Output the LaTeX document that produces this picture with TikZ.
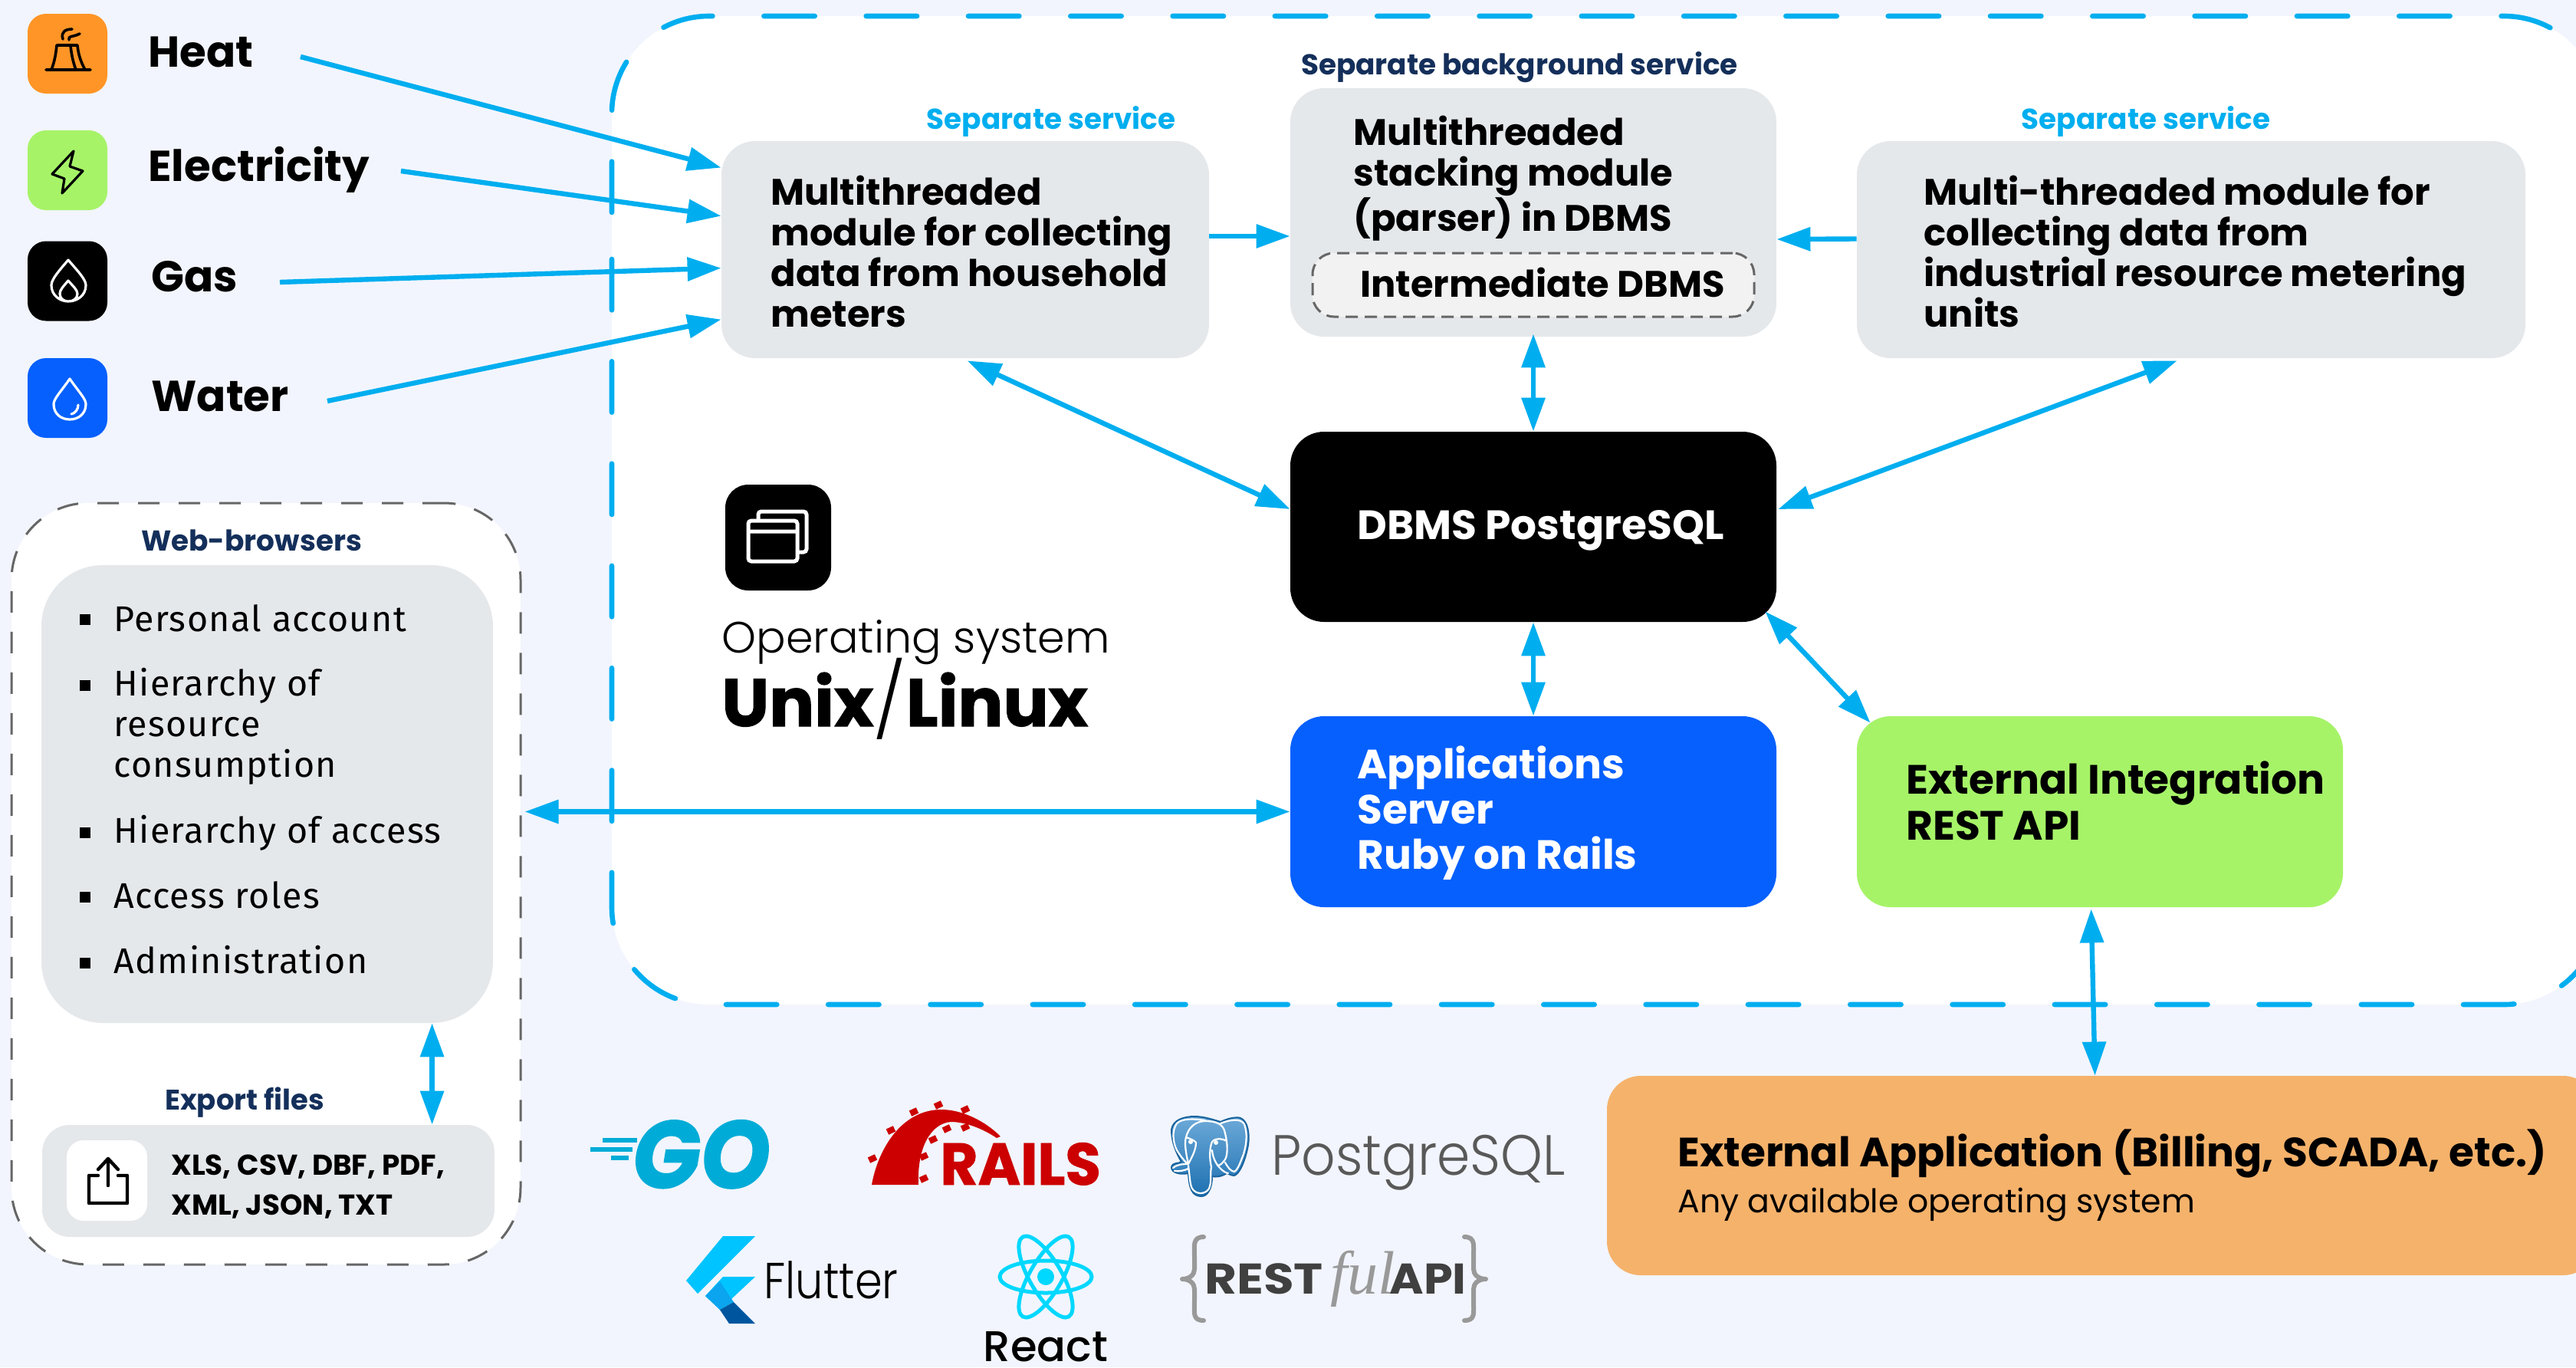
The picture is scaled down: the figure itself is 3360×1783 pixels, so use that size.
\documentclass[tikz,border=0pt]{standalone}
\usepackage{fontspec}
\setmainfont{Poppins}
\newfontfamily\popb{Poppins Bold}
\newfontfamily\popm{Poppins Medium}
\newfontfamily\popl{Poppins Light}
\newfontfamily\popbi{Poppins Bold Italic}[FakeBold=1.5]
\newfontfamily\popbx{Poppins Bold}[FakeBold=1.2]
\newfontfamily\fulf{Liberation Serif Italic}
\newfontfamily\listf{Fira Sans}[LetterSpace=3]
\usetikzlibrary{arrows.meta,calc}
\newcommand\fs[2]{\fontsize{#1}{#2}\selectfont}
\definecolor{bgc}{HTML}{F2F5FD}
\definecolor{cy}{HTML}{00AEEF}
\definecolor{gr}{HTML}{E5E8EB}
\definecolor{navy}{HTML}{142F5A}
\definecolor{orng}{HTML}{FF9526}
\definecolor{lime}{HTML}{A6F368}
\definecolor{blu}{HTML}{0560FE}
\definecolor{ext}{HTML}{F5B26B}
\definecolor{dg}{HTML}{666666}
\definecolor{railsr}{HTML}{CC0000}
\definecolor{gocol}{HTML}{00ACD7}
\definecolor{pgb}{HTML}{1F7CC4}
\definecolor{flA}{HTML}{00C4FF}
\definecolor{flB}{HTML}{0AA5EE}
\definecolor{flC}{HTML}{00569E}
\definecolor{reac}{HTML}{00D8FF}
\tikzset{x=.5pt,y=-.5pt,
 box/.style={rectangle,rounded corners=22pt,inner sep=0pt,fill=gr},
 icon/.style={rectangle,rounded corners=12pt,inner sep=0pt,minimum width=52pt,minimum height=52pt},
 arr/.style={draw=cy,line width=3.2pt,-{Triangle[length=22pt,width=15pt]}},
 barr/.style={draw=cy,line width=3.2pt,{Triangle[length=22pt,width=15pt]}-{Triangle[length=22pt,width=15pt]}},
 t/.style={anchor=west,inner sep=0pt,align=left},
 tc/.style={anchor=center,inner sep=0pt,align=center},
 bul/.style={rectangle,fill=black,inner sep=0pt,minimum size=7pt},
 lbl/.style={anchor=base west,inner sep=0pt,font=\popb\fs{28.2}{34}},
 main/.style={t,font=\popb\fs{24}{26.4}},
 osdash/.style={cy,line width=3.3pt,line cap=round,dash pattern=on 33.2pt off 33.45pt,rounded corners=63.5pt},
 li/.style={t,font=\listf\fs{23.3}{26.5}},
}
\begin{document}
\begin{tikzpicture}
\useasboundingbox (0,0) rectangle (3360,1783);
\clip (0,0) rectangle (3360,1783);
\fill[bgc] (0,0) rectangle (3360,1783);
% OS area
\node[rectangle,rounded corners=63.5pt,fill=white,inner sep=0pt,minimum width=1297.5pt,minimum height=644.5pt] (osarea) at (2095.5,665.5) {};
\draw[osdash] (798,277) -- (798,21) -- (3393,21) -- (3393,700);
\draw[osdash] (798,338) -- (798,1310) -- (3393,1310) -- (3393,700);
% meter icons
\node[icon,fill=orng] (iheat) at (88,70) {};
\node[icon,fill=lime] (ielec) at (88,222) {};
\node[icon,fill=black] (igas) at (88,366.5) {};
\node[icon,fill=blu] (iwat) at (88,519) {};
\draw[black,line width=1.8pt,line cap=round,line join=round] (60,91) -- (118,91) (67,91) .. controls (72,78) and (73,68) .. (74,59) -- (101,59) .. controls (102,70) and (105,80) .. (111,91) (92,59) .. controls (93,70) and (95,80) .. (99,91) (82,51) .. controls (79,42) and (85,38) .. (94,38) (90,52) .. controls (89,46) and (94,49) .. (104,44);
\draw[black,line width=1.6pt,line join=round] (96,197) -- (91,217) -- (108,223) -- (81,252) -- (84,233) -- (68,227) -- cycle;
\draw[white,line width=1.6pt,line join=round] (89,339) .. controls (78,352) and (67,364) .. (67,372) .. controls (67,385) and (78,393) .. (89,393) .. controls (101,393) and (112,385) .. (112,372) .. controls (112,364) and (100,352) .. (89,339) -- cycle
 (89,366) .. controls (83,373) and (78,378) .. (78,383) .. controls (78,389) and (83,393) .. (89,393) .. controls (96,393) and (101,389) .. (101,383) .. controls (101,378) and (95,373) .. (89,366) -- cycle;
\draw[white,line width=1.6pt,line join=round,line cap=round] (91,494) .. controls (80,510) and (70,520) .. (70,527) .. controls (70,540) and (80,547) .. (91,547) .. controls (102,547) and (112,540) .. (112,527) .. controls (112,520) and (102,510) .. (91,494) -- cycle (102,528) .. controls (102,534) and (98,539) .. (93,540);
\node[lbl] (heat) at (193,87) {Heat};
\node[lbl] (elec) at (193,236) {Electricity};
\node[lbl] (gas) at (197,380) {Gas};
\node[lbl] (water) at (197,536) {Water};
\coordinate (heatout) at (392,74);
\coordinate (elecout) at (523,223);
\coordinate (gasout) at (365,368);
\coordinate (watout) at (427,523);
% boxes
\node[box] (collect) at (1259,325.5) [minimum width=318pt,minimum height=141.5pt] {};
\node[box] (stack) at (2000,277) [minimum width=317pt,minimum height=162pt] {};
\node[box] (indust) at (2858,325.5) [minimum width=436pt,minimum height=141.5pt] {};
\node[rectangle,rounded corners=14pt,fill=black!5,draw=dg,line width=1.5pt,dash pattern=on 8pt off 4.5pt,inner sep=0pt,minimum width=288pt,minimum height=41.5pt] (interm) at (2000,371.5) {};
\node[box,fill=black] (dbms) at (2000,687) [minimum width=317pt,minimum height=124pt] {};
\node[box,fill=blu] (app) at (2000,1058.5) [minimum width=317pt,minimum height=124.5pt] {};
\node[box,fill=lime] (integ) at (2739,1058.5) [minimum width=317pt,minimum height=124.5pt] {};
\node[box,fill=ext] (extapp) at (2741.5,1533) [minimum width=645.5pt,minimum height=130pt] {};
\node[main] (collectt) at (1005,328) {Multithreaded\\module for collecting\\data from household\\meters};
\node[main] (stackt) at (1765,233) {Multithreaded\\stacking module\\(parser) in DBMS};
\node[main] (interct) at (1774,368) {Intermediate DBMS};
\node[main] (industt) at (2509,328) {Multi-threaded module for\\collecting data from\\industrial resource metering\\units};
\node[t,font=\popb\fs{26.7}{29},white] (dbmst) at (1770,692) {DBMS PostgreSQL};
\node[t,font=\popb\fs{26.65}{29.5},white] (appt) at (1770,1060) {Applications\\Server\\Ruby on Rails};
\node[t,font=\popb\fs{26.7}{30}] (integt) at (2486,1044) {External Integration\\REST API};
\node[t,font=\popb\fs{26.65}{30}] (extt) at (2188,1504) {External Application (Billing, SCADA, etc.)};
\node[t,font=\fs{21.3}{25}] (extsub) at (2188,1571) {Any available operating system};
\node[tc,font=\popb\fs{18.7}{22},cy] (sep1) at (1371,158) {Separate service};
\node[tc,font=\popb\fs{18.7}{22},cy] (sep2) at (2799,158) {Separate service};
\node[tc,font=\popb\fs{18.7}{22},navy] (sepbg) at (1982,88) {Separate background service};
% OS icon
\node[icon,fill=black,rounded corners=15pt,minimum width=69pt,minimum height=69pt] (osicon) at (1015,701) {};
\draw[white,line width=2.5pt,rounded corners=2pt] (989,679) -- (989,667) -- (1052,667) -- (1052,720) -- (1040,720);
\draw[white,line width=2.5pt,rounded corners=2pt] (976,679) rectangle (1040,732) (976,693) -- (1040,693);
\node[anchor=base west,inner sep=0pt,font=\popl\fs{28.6}{34}] (ostxt) at (941,851) {Operating system};
\node[anchor=base west,inner sep=0pt,font=\popbx\fs{43.8}{50}] (osname) at (941,947) {Unix{\popl\fs{48}{50}\raisebox{-.8pt}{/}}Linux};
% browsers
\node[rectangle,rounded corners=50pt,fill=white,draw=dg,line width=1.5pt,dash pattern=on 14pt off 12.5pt,inner sep=0pt,minimum width=332pt,minimum height=496.5pt] (web) at (347,1152.5) {};
\node[tc,font=\popb\fs{18.7}{22},navy] (webt) at (328,705) {Web-browsers};
\node[box,rounded corners=40pt] (list) at (348.5,1035.5) [minimum width=294.5pt,minimum height=298.5pt] {};
\foreach \n/\y in {b1/808,b2/894,b3/1086,b4/1170,b5/1256} \node[bul] (\n) at (111,\y) {};
\node[li] (l1) at (148,806) {Personal account};
\node[li] (l2) at (148,947) {Hierarchy of\\resource\\consumption};
\node[li] (l3) at (148,1086) {Hierarchy of access};
\node[li] (l4) at (148,1167) {Access roles};
\node[li] (l5) at (148,1252) {Administration};
\node[tc,font=\popb\fs{18.5}{22},navy] (expt) at (319,1438) {Export files};
\node[box,rounded corners=18pt] (exportb) at (350,1540) [minimum width=295pt,minimum height=73pt] {};
\node[rectangle,rounded corners=11pt,fill=white,inner sep=0pt,minimum width=52.5pt,minimum height=52.5pt] (expicon) at (139.5,1539.5) {};
\draw[black,line width=2.2pt,line cap=round,line join=round] (128,1533) -- (116,1533) -- (116,1569) -- (166,1569) -- (166,1533) -- (154,1533) (141,1546) -- (141,1512) (128,1525) -- (141,1511) -- (154,1525);
\node[t,font=\popb\fs{18.7}{26}] (extxt) at (223,1548) {XLS, CSV, DBF, PDF,\\XML, JSON, TXT};
% connectors
\draw[arr] (heatout) -- ($(collect.north west)+(0,35)$);
\draw[arr] (elecout) -- ($(collect.north west)+(0,98)$);
\draw[arr] (gasout) -- ($(collect.north west)+(0,166)$);
\draw[arr] (watout) -- ($(collect.north west)+(0,233)$);
\draw[arr] (collect.east |- stack.center) ++(0,31) -- ($(stack.west)+(0,31)$);
\draw[arr] ($(indust.west)+(0,-14)$) -- ($(stack.east)+(0,35)$);
\draw[barr] ($(stack.south)+(0,-4)$) -- (dbms.north);
\draw[barr] ($(collect.south west)+(321,3)$) -- ($(dbms.west)+(0,-23)$);
\draw[barr] ($(indust.south west)+(418,3)$) -- ($(dbms.east)+(2,-23)$);
\draw[barr] (dbms.south) -- (app.north);
\draw[barr] ($(dbms.south east)+(-15,-14)$) -- ($(integ.north west)+(18,9)$);
\draw[barr] ($(integ.south west)+(306,2)$) -- ($(extapp.north west)+(637,0)$);
\draw[barr] ($(web.east)+(4,-94)$) -- (app.west);
\draw[barr] ($(list.south west)+(510,0)$) -- ($(exportb.north west)+(509,0)$);
% logos
\node[anchor=base west,inner sep=0pt,font=\popbi\fs{62}{70},gocol,xscale=.935] (gologo) at (825,1549) {GO};
\draw[gocol,line width=3pt] (786,1487) -- (831,1487) (770,1499) -- (825,1499) (797,1510) -- (820,1510);
% rails
\fill[railsr] (1137,1545) .. controls (1145,1500) and (1175,1447) .. (1228,1447) .. controls (1255,1447) and (1285,1462) .. (1305,1482) -- (1300,1484) .. controls (1285,1474) and (1262,1463) .. (1240,1463) .. controls (1215,1465) and (1196,1495) .. (1198,1545) -- cycle;
\foreach \x/\y in {1138/1511,1162/1474,1192/1450,1224/1441,1259/1447,1259/1470,1235/1472,1217/1486,1205/1508,1205/1537} \fill[railsr,rotate around={25:(\x,\y)}] ({\x-5},{\y-4}) rectangle ({\x+5},{\y+4});
\node[anchor=base west,inner sep=0pt,font=\popbx\fs{38.5}{44},railsr,xscale=.98] (railst) at (1226,1545) {RAILS};
% postgres elephant
\path[top color=pgb!65!white,bottom color=pgb!90!black,draw=pgb!80!black,line width=1pt,line join=round] (1528,1473) .. controls (1530,1460) and (1545,1456) .. (1558,1456) .. controls (1570,1456) and (1582,1460) .. (1592,1463) .. controls (1600,1459) and (1612,1456) .. (1618,1458) .. controls (1628,1462) and (1630,1480) .. (1628,1493) .. controls (1625,1510) and (1618,1530) .. (1610,1533) .. controls (1605,1533) and (1602,1530) .. (1600,1530) .. controls (1592,1535) and (1585,1535) .. (1581,1534) .. controls (1581,1550) and (1575,1560) .. (1567,1560) .. controls (1555,1560) and (1551,1550) .. (1550,1530) .. controls (1540,1532) and (1528,1530) .. (1528,1522) .. controls (1530,1515) and (1538,1518) .. (1541,1515) .. controls (1535,1505) and (1528,1490) .. (1528,1473) -- cycle;
\draw[white,line width=1.1pt,line cap=round,line join=round]
 (1550,1518) .. controls (1546,1500) and (1545,1490) .. (1547,1483) .. controls (1550,1470) and (1560,1462) .. (1572,1462) .. controls (1585,1462) and (1596,1465) .. (1598,1478) .. controls (1601,1490) and (1602,1505) .. (1598,1512) .. controls (1595,1516) and (1592,1520) .. (1588,1520)
 (1550,1520) .. controls (1552,1535) and (1552,1545) .. (1555,1550) .. controls (1560,1558) and (1572,1558) .. (1577,1550) .. controls (1581,1540) and (1578,1530) .. (1580,1522) .. controls (1577,1510) and (1578,1495) .. (1581,1489) .. controls (1586,1483) and (1595,1485) .. (1600,1488)
 (1547,1483) .. controls (1552,1485) and (1558,1487) .. (1560,1490) .. controls (1560,1500) and (1554,1510) .. (1550,1518)
 (1581,1500) .. controls (1582,1510) and (1586,1518) .. (1592,1524) .. controls (1596,1528) and (1600,1530) .. (1602,1530)
 (1592,1465) .. controls (1605,1460) and (1618,1458) .. (1623,1466) .. controls (1628,1480) and (1625,1495) .. (1622,1505) .. controls (1618,1515) and (1615,1525) .. (1610,1528) .. controls (1605,1527) and (1602,1523) .. (1598,1516)
 (1572,1461) .. controls (1558,1459) and (1542,1458) .. (1535,1465) .. controls (1528,1475) and (1530,1490) .. (1535,1500) .. controls (1540,1508) and (1545,1514) .. (1549,1518)
 (1530,1523) .. controls (1536,1518) and (1544,1518) .. (1550,1518) (1532,1527) .. controls (1538,1528) and (1546,1526) .. (1550,1524);
\fill[white] (1553,1489) circle (1.5pt) (1586,1490) circle (1.5pt);
\node[anchor=base west,inner sep=0pt,font=\popl\fs{37}{42},black!65,xscale=.94] (pgt) at (1658,1532) {PostgreSQL};
% flutter
\fill[flA] (985,1612) -- (943,1612) -- (895,1670) -- (910,1687) -- cycle;
\fill[flA] (985,1665) -- (943,1665) -- (920,1690) -- (939,1708) -- cycle;
\fill[flB] (920,1690) -- (939,1671) -- (957,1698) -- (939,1708) -- cycle;
\fill[flC] (939,1708) -- (957,1698) -- (985,1726) -- (951,1726) -- cycle;
\node[anchor=base west,inner sep=0pt,font=\popl\fs{33}{38},xscale=.87] (flt) at (996,1693) {Flutter};
% react
\foreach \a in {0,60,120} \draw[reac,line width=2.5pt,rotate around={\a:(1364,1665)}] (1364,1665) ellipse (30pt and 10.5pt);
\fill[reac] (1364,1665) circle (5.5pt);
\node[anchor=base,inner sep=0pt,font=\popm\fs{28}{32}] (reactt) at (1364,1775) {React};
% restful
\draw[black!40,line width=3pt,line cap=round,line join=round] (1570,1613) .. controls (1555,1613) and (1558,1625) .. (1558,1640) -- (1558,1655) .. controls (1558,1662) and (1552,1668) .. (1542,1668) .. controls (1552,1668) and (1558,1674) .. (1558,1681) -- (1558,1695) .. controls (1558,1712) and (1555,1722) .. (1570,1722);
\draw[black!40,line width=3pt,line cap=round,line join=round] (1910,1613) .. controls (1925,1613) and (1922,1625) .. (1922,1640) -- (1922,1655) .. controls (1922,1662) and (1928,1668) .. (1938,1668) .. controls (1928,1668) and (1922,1674) .. (1922,1681) -- (1922,1695) .. controls (1922,1712) and (1925,1722) .. (1910,1722);
\node[anchor=base west,inner sep=0pt,font=\popb\fs{28}{32},black!75,xscale=1.15] (rest) at (1571,1687) {REST};
\node[anchor=base west,inner sep=0pt,font=\fulf\fs{40}{44},black!40] (ful) at (1735,1687) {ful};
\node[anchor=base west,inner sep=0pt,font=\popb\fs{28}{32},black!75,xscale=1.08] (api) at (1812,1687) {API};
\end{tikzpicture}
\end{document}
